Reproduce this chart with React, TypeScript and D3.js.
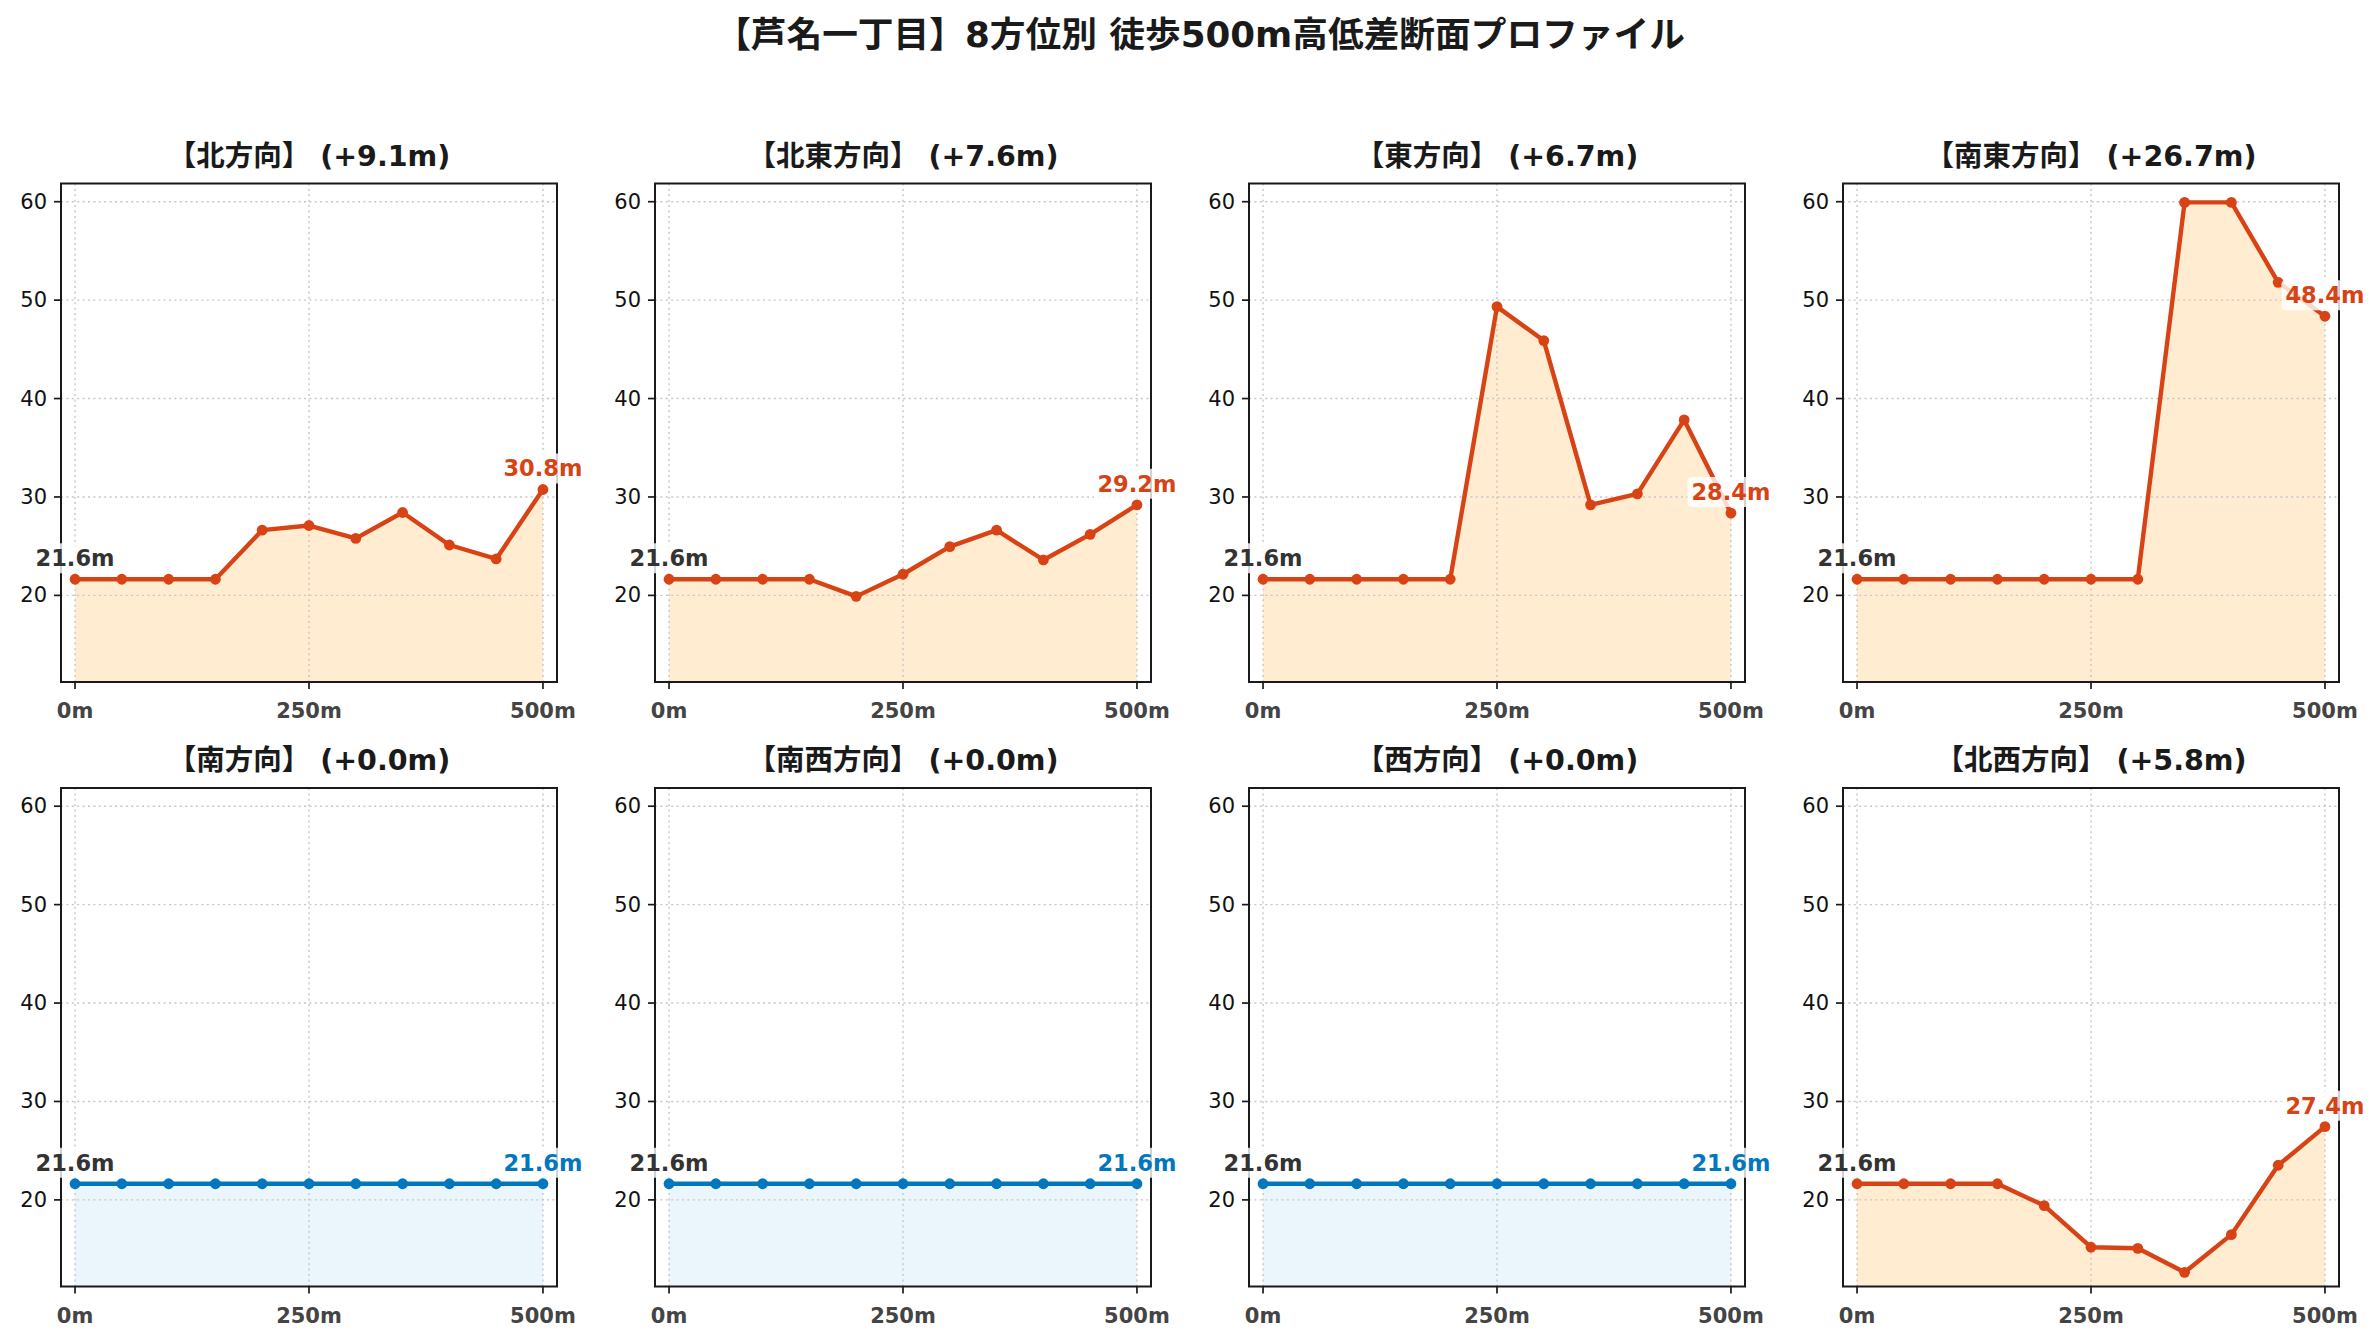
import { useEffect, useRef } from 'react'
import * as d3 from 'd3'

// --- DATA ---
const DISTANCES = [0, 50, 100, 150, 200, 250, 300, 350, 400, 450, 500]
const DIRECTIONS = ['北', '北東', '東', '南東', '南', '南西', '西', '北西']

const ELEV_N = [21.64, 21.64, 21.64, 21.64, 26.63, 27.1, 25.79, 28.42, 25.12, 23.7, 30.76]
const ELEV_NE = [21.64, 21.64, 21.64, 21.64, 19.9, 22.15, 24.95, 26.63, 23.6, 26.2, 29.2]
const ELEV_E = [21.64, 21.64, 21.64, 21.64, 21.64, 49.34, 45.89, 29.2, 30.32, 37.83, 28.36]
const ELEV_SE = [21.64, 21.64, 21.64, 21.64, 21.64, 21.64, 21.64, 59.93, 59.93, 51.81, 48.36]
const ELEV_S = [21.64, 21.64, 21.64, 21.64, 21.64, 21.64, 21.64, 21.64, 21.64, 21.64, 21.64]
const ELEV_SW = [21.64, 21.64, 21.64, 21.64, 21.64, 21.64, 21.64, 21.64, 21.64, 21.64, 21.64]
const ELEV_W = [21.64, 21.64, 21.64, 21.64, 21.64, 21.64, 21.64, 21.64, 21.64, 21.64, 21.64]
const ELEV_NW = [21.64, 21.64, 21.64, 21.64, 19.42, 15.19, 15.08, 12.64, 16.47, 23.52, 27.44]

const PROFILES = [ELEV_N, ELEV_NE, ELEV_E, ELEV_SE, ELEV_S, ELEV_SW, ELEV_W, ELEV_NW]

const Y_TICKS = [20, 30, 40, 50, 60]
const X_TICKS = [0, 250, 500]
const X_TICK_LABELS = ['0m', '250m', '500m']

const SUPTITLE = '【芦名一丁目】8方位別 徒歩500m高低差断面プロファイル'

// --- STYLE ---
const FONT = '"DejaVu Sans", "Noto Sans CJK JP", sans-serif'
const RED = '#D84315'
const RED_FILL = '#FFECD1'
const BLUE = '#0277BD'
const BLUE_FILL = '#EBF6FC'

const FIG_W = 2380
const FIG_H = 1340
const AX_W = 496
const AX_H = 498.5
const COL_STEP = 594
const ROW_TOPS = [183.5, 788]

export default function App() {
  const svgRef = useRef<SVGSVGElement | null>(null)

  useEffect(() => {
    if (!svgRef.current) return
    const svg = d3.select<SVGSVGElement, unknown>(svgRef.current)
    svg.selectAll('*').remove()

    svg.append('rect').attr('width', FIG_W).attr('height', FIG_H).attr('fill', '#fff')

    // --- SUPTITLE ---
    svg
      .append('text')
      .attr('x', 1200)
      .attr('y', 34)
      .attr('text-anchor', 'middle')
      .attr('dominant-baseline', 'central')
      .style('font-family', FONT)
      .style('font-size', '35.7px')
      .style('font-weight', 'bold')
      .attr('fill', '#1a1a1a')
      .text(SUPTITLE)

    PROFILES.forEach((values, i) => {
      const col = i % 4
      const row = Math.floor(i / 4)
      const left = 61 + col * COL_STEP
      const top = ROW_TOPS[row]

      const gain = values[values.length - 1] - values[0]
      const color = gain > 0 ? RED : BLUE
      const fillColor = gain > 0 ? RED_FILL : BLUE_FILL

      const x = d3.scaleLinear().domain([-15, 515]).range([0, AX_W])
      const y = d3.scaleLinear().domain([11.2, 61.85]).range([AX_H, 0])

      const g = svg.append('g').attr('transform', `translate(${left},${top})`)

      // --- FILL ---
      const area = d3
        .area<number>()
        .x((_, j) => x(DISTANCES[j]))
        .y0(AX_H)
        .y1((d) => y(d))
      g.append('path').datum(values).attr('d', area).attr('fill', fillColor)

      // --- GRID ---
      Y_TICKS.forEach((t) => {
        g.append('line')
          .attr('x1', 0)
          .attr('x2', AX_W)
          .attr('y1', y(t))
          .attr('y2', y(t))
          .attr('stroke', '#c6c6c6')
          .attr('stroke-width', 1.4)
          .attr('stroke-dasharray', '2,3.4')
      })
      X_TICKS.forEach((t) => {
        g.append('line')
          .attr('x1', x(t))
          .attr('x2', x(t))
          .attr('y1', 0)
          .attr('y2', AX_H)
          .attr('stroke', '#c6c6c6')
          .attr('stroke-width', 1.4)
          .attr('stroke-dasharray', '2,3.4')
      })

      // --- LINE + MARKERS ---
      const line = d3
        .line<number>()
        .x((_, j) => x(DISTANCES[j]))
        .y((d) => y(d))
      g.append('path')
        .datum(values)
        .attr('d', line)
        .attr('fill', 'none')
        .attr('stroke', color)
        .attr('stroke-width', 4.4)
        .attr('stroke-linejoin', 'round')

      g.selectAll('circle.pt')
        .data(values)
        .enter()
        .append('circle')
        .attr('class', 'pt')
        .attr('cx', (_, j) => x(DISTANCES[j]))
        .attr('cy', (d) => y(d))
        .attr('r', 5.4)
        .attr('fill', color)

      // --- SPINES ---
      g.append('rect')
        .attr('width', AX_W)
        .attr('height', AX_H)
        .attr('fill', 'none')
        .attr('stroke', '#1a1a1a')
        .attr('stroke-width', 2)

      // --- TICKS ---
      Y_TICKS.forEach((t) => {
        g.append('line')
          .attr('x1', -7)
          .attr('x2', 0)
          .attr('y1', y(t))
          .attr('y2', y(t))
          .attr('stroke', '#1a1a1a')
          .attr('stroke-width', 1.7)
        g.append('text')
          .attr('x', -14)
          .attr('y', y(t))
          .attr('text-anchor', 'end')
          .attr('dominant-baseline', 'central')
          .style('font-family', FONT)
          .style('font-size', '21px')
          .attr('fill', '#111')
          .text(String(t))
      })
      X_TICKS.forEach((t, k) => {
        g.append('line')
          .attr('x1', x(t))
          .attr('x2', x(t))
          .attr('y1', AX_H)
          .attr('y2', AX_H + 7)
          .attr('stroke', '#1a1a1a')
          .attr('stroke-width', 1.7)
        g.append('text')
          .attr('x', x(t))
          .attr('y', AX_H + 29)
          .attr('text-anchor', 'middle')
          .attr('dominant-baseline', 'central')
          .style('font-family', FONT)
          .style('font-size', '21px')
          .style('font-weight', 'bold')
          .attr('fill', '#444')
          .text(X_TICK_LABELS[k])
      })

      // --- TITLE ---
      g.append('text')
        .attr('x', AX_W / 2)
        .attr('y', -27.5)
        .attr('text-anchor', 'middle')
        .attr('dominant-baseline', 'central')
        .style('font-family', FONT)
        .style('font-size', '28.5px')
        .style('font-weight', 'bold')
        .attr('fill', '#1a1a1a')
        .text(`【${DIRECTIONS[i]}方向】 (+${gain.toFixed(1)}m)`)

      // --- START / END LABELS ---
      const addLabel = (j: number, fill: string) => {
        const lg = g.append('g')
        const txt = lg
          .append('text')
          .attr('x', x(DISTANCES[j]))
          .attr('y', y(values[j]) - 13)
          .attr('text-anchor', 'middle')
          .style('font-family', FONT)
          .style('font-size', '22.5px')
          .style('font-weight', 'bold')
          .attr('fill', fill)
          .text(`${values[j].toFixed(1)}m`)
        const bb = (txt.node() as SVGTextElement).getBBox()
        lg.insert('rect', 'text')
          .attr('x', bb.x - 4)
          .attr('y', bb.y - 2)
          .attr('width', bb.width + 8)
          .attr('height', bb.height + 4)
          .attr('rx', 4)
          .attr('fill', '#fff')
          .attr('fill-opacity', 0.8)
      }
      addLabel(0, '#333')
      addLabel(values.length - 1, color)
    })
  }, [])

  return (
    <div style={{ position: 'absolute', left: 0, top: 0 }}>
      <svg ref={svgRef} width={FIG_W} height={FIG_H} />
    </div>
  )
}
